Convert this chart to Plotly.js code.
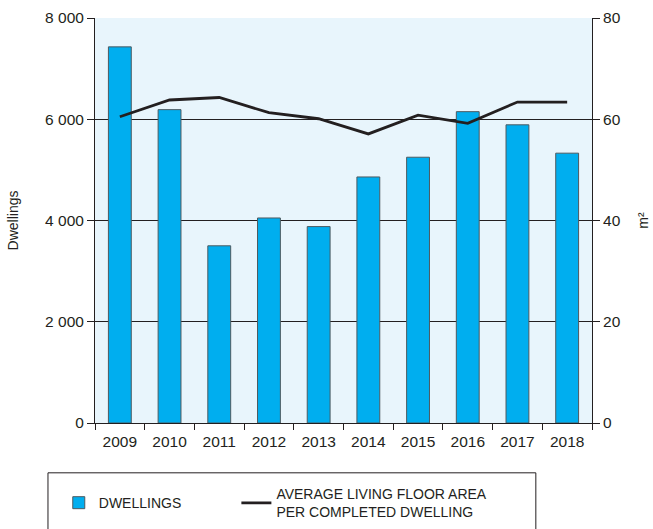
<!DOCTYPE html>
<html><head><meta charset="utf-8">
<script src="https://cdn.plot.ly/plotly-3.0.1.min.js"></script>
<style>html,body{margin:0;padding:0;background:#fff}#c{width:653px;height:529px}</style>
</head><body><div id="c"></div>
<script>
const years = ['2009','2010','2011','2012','2013','2014','2015','2016','2017','2018'];
const dwellings = [7430, 6190, 3500, 4050, 3880, 4860, 5250, 6150, 5890, 5330];
const avgArea = [60.5, 63.8, 64.3, 61.3, 60.1, 57.1, 60.8, 59.2, 63.4, 63.4];
const leftTicks = [0, 2000, 4000, 6000, 8000];
const rightTicks = [0, 20, 40, 60, 80];

const font = {family: 'Liberation Sans, Arial, sans-serif', size: 15.5, color: '#231f20'};
const data = [
  {type: 'bar', x: years, y: dwellings, name: 'DWELLINGS', legend: 'legend',
   marker: {color: '#00aeef', line: {color: '#4d5a60', width: 1}}, yaxis: 'y'},
  {type: 'scatter', mode: 'lines', x: years, y: avgArea, legend: 'legend2',
   name: 'AVERAGE LIVING FLOOR AREA<br>PER COMPLETED DWELLING',
   line: {color: '#231f20', width: 2.8}, yaxis: 'y2'}
];
const legendBase = {orientation: 'h', xref: 'container', yref: 'container',
  xanchor: 'left', yanchor: 'middle', valign: 'middle',
  bgcolor: 'rgba(0,0,0,0)', itemwidth: 30, font: {size: 14, color: '#231f20'}};
const layout = {
  width: 653, height: 529,
  margin: {l: 95, r: 61, t: 18, b: 106},
  paper_bgcolor: '#ffffff', plot_bgcolor: '#e8f5fc',
  font: font, separators: '. ',
  bargap: 0.54,
  showlegend: true,
  xaxis: {type: 'category', tickson: 'boundaries', ticks: 'outside', ticklen: 6, tickcolor: '#231f20',
    ticklabelstandoff: 4,
    showline: true, linecolor: '#231f20', linewidth: 1, showgrid: false, automargin: false},
  yaxis: {range: [0, 8000], tickvals: leftTicks, tickformat: ',d', ticks: 'outside', ticklen: 7,
    tickcolor: '#231f20', showline: true, linecolor: '#231f20', linewidth: 1, automargin: false,
    showgrid: true, gridcolor: '#231f20', gridwidth: 1, zeroline: false,
    title: {text: 'Dwellings', font: {size: 14}, standoff: 23}},
  yaxis2: {range: [0, 80], tickvals: rightTicks, overlaying: 'y', side: 'right', ticks: 'outside', ticklen: 7,
    tickcolor: '#231f20', showline: true, linecolor: '#231f20', linewidth: 1, showgrid: false, zeroline: false,
    automargin: false, title: {text: 'm²', font: {size: 14}, standoff: 18}},
  legend: Object.assign({}, legendBase, {x: 0.09, y: 0.049}),
  legend2: Object.assign({}, legendBase, {x: 0.362, y: 0.049}),
  shapes: [{type: 'rect', xref: 'paper', yref: 'paper', x0: -0.0946, x1: 0.887, y0: -0.123, y1: -0.3,
    line: {color: '#231f20', width: 1}, fillcolor: 'rgba(0,0,0,0)'}]
};
Plotly.newPlot('c', data, layout, {displayModeBar: false, staticPlot: true});
</script></body></html>
